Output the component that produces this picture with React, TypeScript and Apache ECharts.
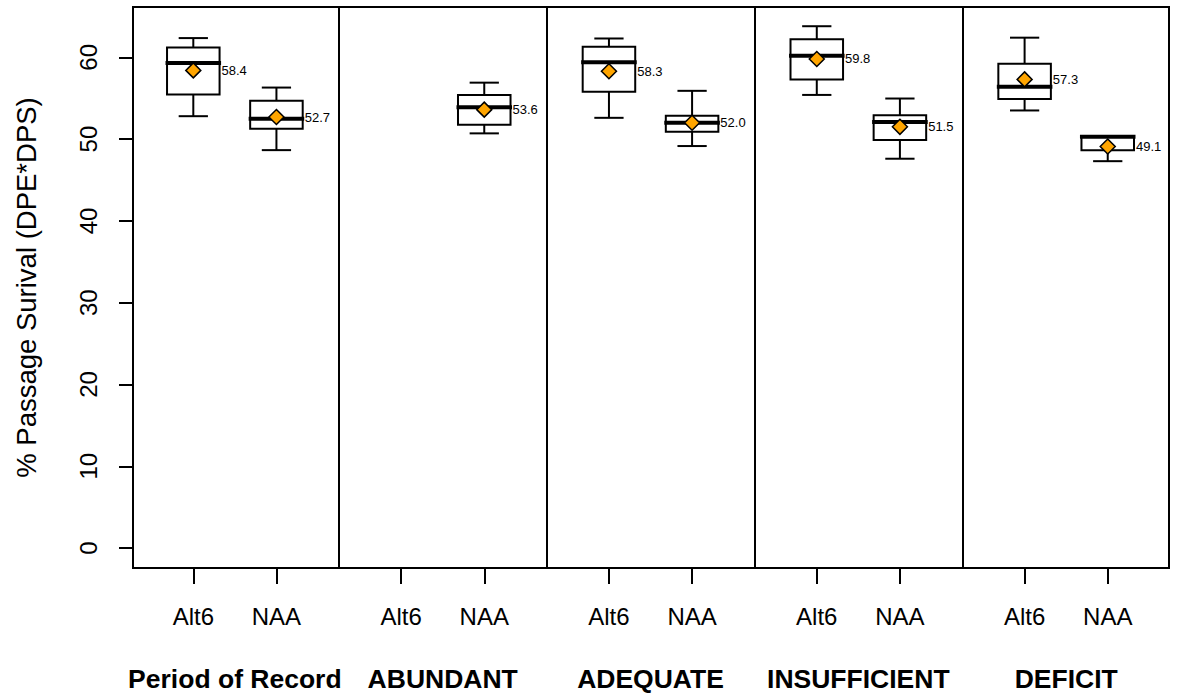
import React, { useEffect, useRef } from "react";
import * as echarts from "echarts";

// ---- data ----
const groupNames = ["Period of Record", "ABUNDANT", "ADEQUATE", "INSUFFICIENT", "DEFICIT"];
const groupCenters = [1.5, 4, 6.5, 9, 11.5];
const dividers = [2.75, 5.25, 7.75, 10.25];
const positions = [1, 2, 3.5, 4.5, 6, 7, 8.5, 9.5, 11, 12];
const tickLabels = ["Alt6", "NAA", "Alt6", "NAA", "Alt6", "NAA", "Alt6", "NAA", "Alt6", "NAA"];
const whiskerLow = [52.8, 48.65, null, 50.7, 52.6, 49.15, 55.4, 47.6, 53.5, 47.3];
const q1 = [55.45, 51.26, null, 51.75, 55.8, 50.9, 57.3, 49.9, 54.9, 48.65];
const median = [59.3, 52.5, null, 53.9, 59.4, 52.0, 60.2, 52.1, 56.4, 50.3];
const q3 = [61.2, 54.7, null, 55.4, 61.3, 52.85, 62.2, 52.9, 59.2, 50.3];
const whiskerHigh = [62.35, 56.3, null, 56.9, 62.3, 55.9, 63.8, 54.96, 62.4, 50.3];
const means = [58.4, 52.7, null, 53.6, 58.3, 52.0, 59.8, 51.5, 57.3, 49.1];
const yTicks = [0, 10, 20, 30, 40, 50, 60];

const FONT = "'Liberation Sans', Arial, sans-serif";
const X_MIN = 0.2746;
const X_MAX = 12.737;
const Y_MIN = -2.44;
const Y_MAX = 66.15;
const BOX_HW = 0.316;
const CAP_HW = 0.176;

export default function App() {
  const ref = useRef<HTMLDivElement>(null);

  useEffect(() => {
    if (!ref.current) return;
    const chart = echarts.init(ref.current, null, { renderer: "svg" });

    const boxData: number[][] = [];
    const meanData: number[][] = [];
    positions.forEach((p, i) => {
      if (median[i] != null) {
        boxData.push([p, whiskerLow[i] as number, q1[i] as number, median[i] as number, q3[i] as number, whiskerHigh[i] as number]);
      }
      if (means[i] != null) meanData.push([p, means[i] as number]);
    });

    const black = "#000";

    const option: any = {
      animation: false,
      backgroundColor: "#fff",
      textStyle: { fontFamily: FONT },
      grid: {
        left: 133,
        right: 12,
        top: 7,
        bottom: 128,
        show: true,
        borderColor: black,
        borderWidth: 2,
        backgroundColor: "transparent",
      },
      xAxis: [
        {
          type: "value",
          min: X_MIN,
          max: X_MAX,
          position: "bottom",
          axisLine: { show: false, onZero: false },
          splitLine: { show: false },
          axisTick: {
            show: true,
            inside: false,
            customValues: positions,
            length: 16,
            lineStyle: { color: black, width: 2 },
          },
          axisLabel: {
            show: true,
            customValues: positions,
            margin: 36,
            fontSize: 24,
            color: black,
            fontFamily: FONT,
            formatter: (v: number) => {
              const i = positions.findIndex((p) => Math.abs(p - v) < 1e-6);
              return i >= 0 ? tickLabels[i] : "";
            },
          },
        },
        {
          type: "value",
          min: X_MIN,
          max: X_MAX,
          position: "bottom",
          axisLine: { show: false, onZero: false },
          splitLine: { show: false },
          axisTick: { show: false },
          axisLabel: {
            show: true,
            customValues: groupCenters,
            margin: 97,
            fontSize: 26.5,
            fontWeight: "bold",
            color: black,
            fontFamily: FONT,
            formatter: (v: number) => {
              const i = groupCenters.findIndex((p) => Math.abs(p - v) < 1e-6);
              return i >= 0 ? groupNames[i] : "";
            },
          },
        },
      ],
      yAxis: {
        type: "value",
        min: Y_MIN,
        max: Y_MAX,
        axisLine: { show: false, onZero: false },
        splitLine: { show: false },
        axisTick: {
          show: true,
          customValues: yTicks,
          length: 14,
          lineStyle: { color: black, width: 2 },
        },
        axisLabel: {
          show: true,
          customValues: yTicks,
          rotate: 90,
          margin: 33,
          fontSize: 24,
          color: black,
          fontFamily: FONT,
        },
        name: "% Passage Surival (DPE*DPS)",
        nameLocation: "middle",
        nameGap: 93,
        nameTextStyle: { fontSize: 27.5, color: black, fontFamily: FONT },
      },
      series: [
        {
          type: "custom",
          xAxisIndex: 0,
          yAxisIndex: 0,
          data: boxData,
          encode: { x: 0, y: [1, 2, 3, 4, 5] },
          z: 2,
          renderItem: (params: any, api: any) => {
            const x = api.value(0);
            const lo = api.value(1);
            const b1 = api.value(2);
            const med = api.value(3);
            const b3 = api.value(4);
            const hi = api.value(5);
            const c = (xx: number, yy: number) => api.coord([xx, yy]);
            const ls = { stroke: black, lineWidth: 2, fill: null };
            const top = c(x - BOX_HW, b3);
            const bot = c(x + BOX_HW, b1);
            const mL = c(x - BOX_HW, med);
            const mR = c(x + BOX_HW, med);
            const children: any[] = [];
            if (hi > b3) {
              const a = c(x, b3), b = c(x, hi);
              children.push({ type: "line", shape: { x1: a[0], y1: a[1], x2: b[0], y2: b[1] }, style: ls });
            }
            const h1 = c(x - CAP_HW, hi), h2 = c(x + CAP_HW, hi);
            children.push({ type: "line", shape: { x1: h1[0], y1: h1[1], x2: h2[0], y2: h2[1] }, style: ls });
            if (lo < b1) {
              const a = c(x, b1), b = c(x, lo);
              children.push({ type: "line", shape: { x1: a[0], y1: a[1], x2: b[0], y2: b[1] }, style: ls });
            }
            const l1 = c(x - CAP_HW, lo), l2 = c(x + CAP_HW, lo);
            children.push({ type: "line", shape: { x1: l1[0], y1: l1[1], x2: l2[0], y2: l2[1] }, style: ls });
            children.push({
              type: "rect",
              shape: { x: top[0], y: top[1], width: bot[0] - top[0], height: bot[1] - top[1] },
              style: { stroke: black, lineWidth: 2, fill: "#fff" },
            });
            children.push({
              type: "line",
              shape: { x1: mL[0] - 1.5, y1: mL[1], x2: mR[0] + 1.5, y2: mR[1] },
              style: { stroke: black, lineWidth: 4, fill: null },
            });
            return { type: "group", children };
          },
        },
        {
          type: "scatter",
          xAxisIndex: 0,
          yAxisIndex: 0,
          data: meanData,
          symbol: "diamond",
          symbolSize: 15,
          z: 3,
          itemStyle: { color: "#FFA500", borderColor: black, borderWidth: 1.5, opacity: 1 },
          label: {
            show: true,
            position: "right",
            distance: 20,
            fontSize: 13,
            color: black,
            fontFamily: FONT,
            formatter: (p: any) => Number(p.value[1]).toFixed(1),
          },
          markLine: {
            silent: true,
            symbol: ["none", "none"],
            label: { show: false },
            lineStyle: { color: black, width: 2, type: "solid" },
            data: dividers.map((d) => ({ xAxis: d })),
          },
        },
      ],
    };

    chart.setOption(option);
    return () => {
      chart.dispose();
    };
  }, []);

  return (
    <div
      ref={ref}
      style={{ position: "fixed", left: 0, top: 0, width: 1181, height: 696, background: "#fff" }}
    />
  );
}
